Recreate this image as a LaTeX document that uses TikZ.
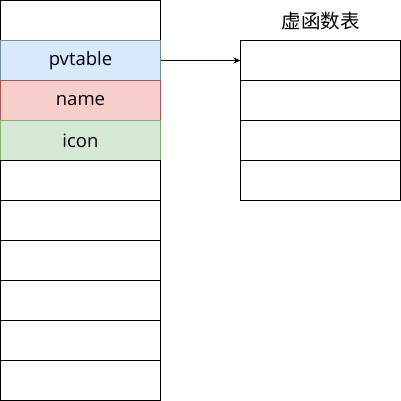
\documentclass[tikz,border=0pt]{standalone}
\usepackage{fontspec}
\setmainfont{Open Sans}
\newfontfamily\cjk{Noto Sans CJK SC}
\usepackage{tikz}
\usepackage{xcolor}
\usetikzlibrary{arrows.meta, positioning}

\definecolor{bluefill}{HTML}{DAE8FC}
\definecolor{blueline}{HTML}{6C8EBF}
\definecolor{redfill}{HTML}{F8CECC}
\definecolor{redline}{HTML}{B85450}
\definecolor{greenfill}{HTML}{D5E8D4}
\definecolor{greenline}{HTML}{82B366}

\begin{document}
\begin{tikzpicture}[x=1pt, y=1pt,
    cell/.style={draw, rectangle, fill=white, line width=1pt, minimum width=160pt, minimum height=40pt, inner sep=0pt, outer sep=0pt, font=\fontsize{18.5}{22}\selectfont}]
    \useasboundingbox (0,0) rectangle (401,-401);

    % Object layout
    \node[cell] (head) at (80.5,-20.5) {};
    \node[cell, fill=bluefill, draw=blueline] (pvtable) at (80.5,-60.5) {pvtable};
    \node[cell, fill=redfill, draw=redline] (name) at (80.5,-100.5) {name};
    \node[cell, fill=greenfill, draw=greenline] (icon) at (80.5,-140.5) {icon};
    \node[cell] (obj4) at (80.5,-180.5) {};
    \node[cell] (obj5) at (80.5,-220.5) {};
    \node[cell] (obj6) at (80.5,-260.5) {};
    \node[cell] (obj7) at (80.5,-300.5) {};
    \node[cell] (obj8) at (80.5,-340.5) {};
    \node[cell] (obj9) at (80.5,-380.5) {};

    % Virtual function table
    \node[font=\cjk\fontsize{19.5}{22}\selectfont] (vtitle) at (320.5,-21) {虚函数表};
    \node[cell] (vt1) at (320.5,-60.5) {};
    \node[cell] (vt2) at (320.5,-100.5) {};
    \node[cell] (vt3) at (320.5,-140.5) {};
    \node[cell] (vt4) at (320.5,-180.5) {};

    \draw[-{Stealth[length=7pt, width=6pt]}, line width=0.8pt] (pvtable) -- (vt1);
\end{tikzpicture}
\end{document}
